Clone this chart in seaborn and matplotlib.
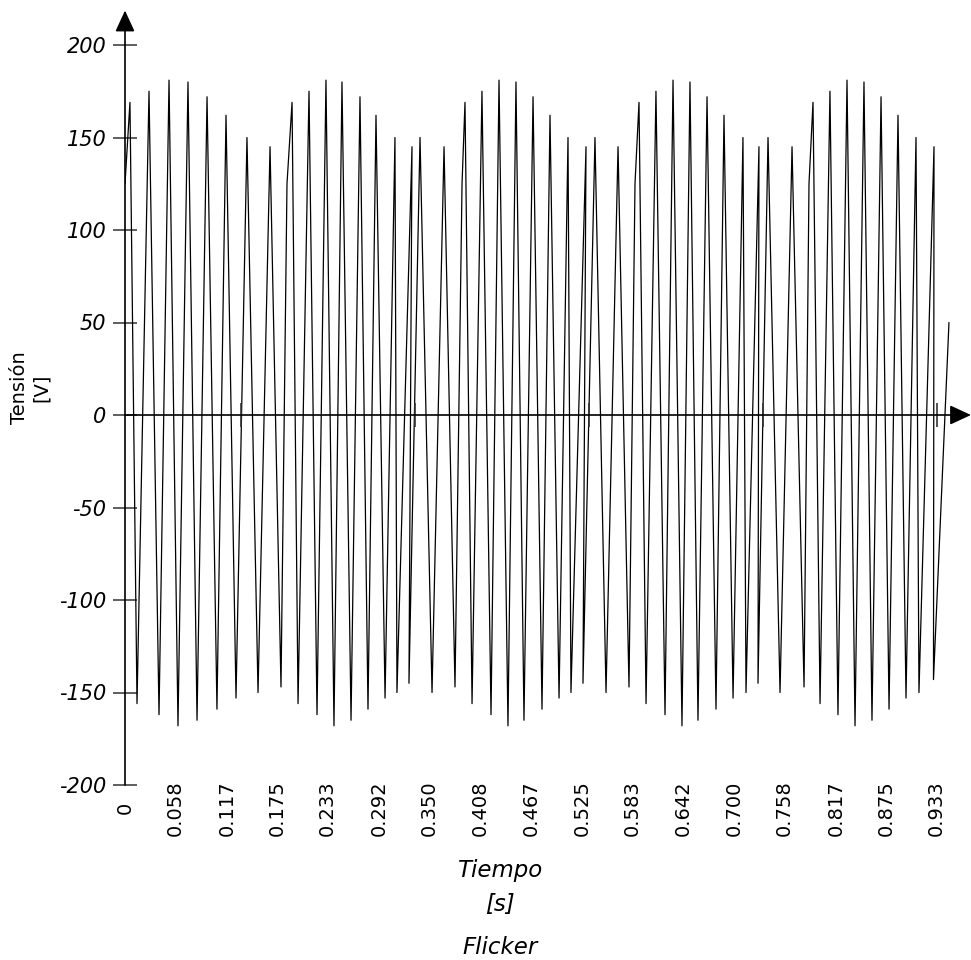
import matplotlib.pyplot as plt
import numpy as np
import pandas as pd
import seaborn as sns

# Time (s) and voltage (V) of every vertex of the sampled waveform
tiempo = [0.0, 0.0057, 0.0138, 0.0276, 0.0391, 0.0506, 0.0609, 0.0724, 0.0828, 0.0943,
          0.1057, 0.1161, 0.1276, 0.1402, 0.1529, 0.1667, 0.1793, 0.1862, 0.1920,
          0.1989, 0.2115, 0.2207, 0.2310, 0.2402, 0.2494, 0.2598, 0.2701, 0.2793, 0.2885,
          0.2989, 0.3103, 0.3126, 0.3299, 0.3264, 0.3391, 0.3529, 0.3667, 0.3793, 0.3874, 0.3908,
          0.3989, 0.4103, 0.4207, 0.4299, 0.4402, 0.4494, 0.4586, 0.4690, 0.4793, 0.4885,
          0.4989, 0.5092, 0.5126, 0.5299, 0.5264, 0.5402, 0.5529, 0.5667, 0.5793, 0.5862, 0.5908,
          0.5989, 0.6103, 0.6207, 0.6299, 0.6402, 0.6494, 0.6586, 0.6690, 0.6793, 0.6885,
          0.6989, 0.7103, 0.7138, 0.7287, 0.7276, 0.7391, 0.7529, 0.7667, 0.7805, 0.7862, 0.7908,
          0.7989, 0.8103, 0.8195, 0.8299, 0.8391, 0.8494, 0.8586, 0.8690, 0.8782, 0.8885,
          0.8977, 0.9092, 0.9126, 0.9299, 0.9293, 0.9471]
tension = [125, 169, -156, 175, -162, 181, -168, 180, -165, 172,
           -159, 162, -153, 150, -150, 145, -147, 125, 169,
           -156, 175, -162, 181, -168, 180, -165, 172, -159, 162,
           -153, 150, -150, 145, -145, 150, -150, 145, -147, 125, 169,
           -156, 175, -162, 181, -168, 180, -165, 172, -159, 162,
           -153, 150, -150, 145, -145, 150, -150, 145, -147, 125, 169,
           -156, 175, -162, 181, -168, 180, -165, 172, -159, 162,
           -153, 150, -150, 145, -145, 150, -150, 145, -147, 125, 169,
           -156, 175, -162, 181, -168, 180, -165, 172, -159, 162,
           -153, 150, -150, 145, -143, 50]

xtick_labels = ['0', '0.058', '0.117', '0.175', '0.233', '0.292', '0.350', '0.408', '0.467',
                '0.525', '0.583', '0.642', '0.700', '0.758', '0.817', '0.875', '0.933']
ytick_vals = [-200, -150, -100, -50, 0, 50, 100, 150, 200]
eje_marks = [0.133, 0.333, 0.533, 0.733, 0.933]

df = pd.DataFrame({'t': tiempo, 'v': tension})

sns.set_style('white')
plt.rcParams['font.family'] = ['DejaVu Sans']
plt.rcParams['text.color'] = 'black'

fig = plt.figure(figsize=(9.71, 9.6), dpi=100)
ax = fig.add_axes([125 / 971, 175 / 960, 846 / 971, 780 / 960])
xmax = 846 / 870
ymax = 410 / 1.85
ax.set_xlim(0, xmax)
ax.set_ylim(-200, ymax)

sns.lineplot(data=df, x='t', y='v', sort=False, estimator=None, color='black',
             linewidth=0.9, ax=ax)

for s in ax.spines.values():
    s.set_visible(False)

# axes with arrow heads
head = dict(arrowstyle='-|>,head_length=1.3,head_width=0.6', color='black',
            lw=1.2, mutation_scale=10, shrinkA=0, shrinkB=0)
ax.annotate('', xy=(0, ymax - 3), xytext=(0, -200), arrowprops=head, annotation_clip=False)
ax.annotate('', xy=(xmax, 0), xytext=(0, 0), arrowprops=head, annotation_clip=False)
ax.plot(eje_marks, [0] * len(eje_marks), ls='none', marker='|', ms=17, mew=1.2, color='#333')

ax.set_yticks(ytick_vals, [str(v) for v in ytick_vals])
ax.tick_params(axis='y', direction='inout', length=17, width=1.1, color='#333',
               labelcolor='black', pad=5, labelsize=15, left=True)
for lbl in ax.get_yticklabels():
    lbl.set_style('italic')

ax.set_xticks([float(l) for l in xtick_labels], xtick_labels, rotation=90)
ax.tick_params(axis='x', length=0, pad=16.5, labelsize=14, labelcolor='black')
for lbl in ax.get_xticklabels():
    lbl.set_va('center')

ax.set_xlabel('')
ax.set_ylabel('')

fig.text(0.031, 1 - 388 / 960, 'Tensión\n[V]', rotation=90, ha='center', va='center',
         fontsize=14, multialignment='center')
fig.text(500 / 971, 1 - 871 / 960, 'Tiempo', style='italic', ha='center', va='center', fontsize=16.5)
fig.text(500 / 971, 1 - 904 / 960, '[s]', style='italic', ha='center', va='center', fontsize=16.5)
fig.text(500 / 971, 1 - 947 / 960, 'Flicker', style='italic', ha='center', va='center', fontsize=16.5)

fig.savefig('out.png', dpi=100)
